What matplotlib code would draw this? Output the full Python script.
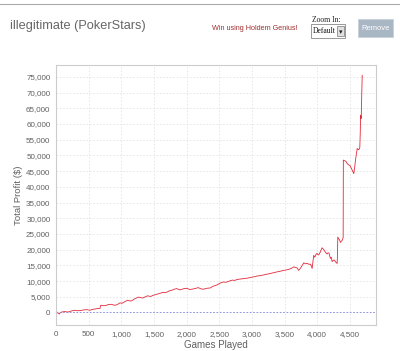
#! /usr/bin/env python3
"""
Total profit vs games played (PokerStars tracker screenshot)
"""

import matplotlib
matplotlib.use('Agg')
import matplotlib.pyplot as plt
from matplotlib.patches import Rectangle
from matplotlib.ticker import FuncFormatter

# games played / cumulative profit
games = [0, 15, 30, 50, 65, 80, 110, 130, 170, 200, 240, 290, 330, 380,
         420, 470, 520, 560, 600, 640, 675, 680, 690, 730, 760, 800, 850,
         890, 930, 960, 980, 1010, 1040, 1070, 1100, 1130, 1160, 1200, 1262,
         1300, 1330, 1370, 1400, 1450, 1493, 1530, 1560, 1600, 1640, 1680,
         1720, 1750, 1780, 1810, 1850, 1890, 1920, 1960, 2000, 2050, 2106,
         2140, 2180, 2220, 2260, 2310, 2362, 2400, 2440, 2470, 2500, 2530,
         2566, 2600, 2640, 2670, 2700, 2740, 2770, 2810, 2850, 2880, 2920,
         2975, 3010, 3050, 3080, 3120, 3170, 3230, 3260, 3300, 3340, 3380,
         3430, 3486, 3520, 3560, 3600, 3640, 3670, 3690, 3716, 3740, 3760,
         3793, 3820, 3850, 3875, 3896, 3910, 3922, 3930, 3946, 3960, 3970,
         3985, 3997, 4015, 4030, 4050, 4074, 4090, 4100, 4125, 4151, 4165,
         4180, 4202, 4215, 4228, 4245, 4260, 4285, 4305, 4310, 4315, 4330,
         4340, 4356, 4370, 4380, 4397, 4400, 4420, 4440, 4459, 4480, 4500,
         4520, 4535, 4560, 4575, 4586, 4600, 4612, 4630, 4640, 4652, 4660,
         4663, 4674, 4680, 4689]
profit = [0, 150, -200, -500, -100, 100, 200, 300, 150, 200, 500, 700, 550,
          600, 800, 900, 700, 1000, 1100, 1270, 1300, 2100, 2300, 2150, 2200,
          2500, 2600, 2300, 2400, 2800, 3060, 2900, 3300, 3600, 3900, 3650,
          3700, 4300, 4900, 4700, 4600, 5000, 5300, 5100, 5500, 5700, 5900,
          6200, 6400, 6300, 6700, 7000, 7100, 7400, 7600, 7200, 7300, 7600,
          7700, 7300, 7500, 7700, 7900, 7500, 7400, 7700, 7800, 8300, 8600,
          8800, 9200, 9500, 9700, 9600, 9900, 10100, 10300, 10200, 10500,
          10600, 10700, 10800, 10900, 11100, 11300, 11400, 11600, 11700,
          11900, 12200, 12300, 12500, 12700, 12900, 13100, 13400, 13500,
          13700, 14000, 14500, 14300, 14200, 13400, 14000, 14600, 15800,
          15500, 15600, 15300, 15400, 14800, 14000, 15500, 18200, 17600,
          17900, 18600, 18800, 18300, 18500, 19400, 20600, 20200, 20000,
          19200, 18600, 19000, 18900, 17200, 17600, 16200, 16600, 16700,
          16000, 15600, 18000, 24000, 23400, 23200, 22300, 22700, 22900,
          23800, 48500, 48300, 48100, 47400, 47000, 46800, 46000, 45300,
          44200, 46500, 48500, 50500, 52200, 51800, 51900, 52500, 58000,
          62800, 61800, 68000, 75500]

x_ticks = list(range(0, 4501, 500))
y_ticks = list(range(0, 75001, 5000))


def main():
    plt.rcParams['font.family'] = ['Liberation Sans', 'DejaVu Sans']
    fig = plt.figure(figsize=(4.0, 3.51), dpi=100)
    fig.patch.set_facecolor('white')

    # page header
    fig.add_artist(plt.Line2D([0, 1], [0.988, 0.988], color='#aaaaaa', lw=0.8))
    fig.text(0.025, 0.925, 'illegitimate (PokerStars)', fontsize=9.2,
             color='#666666', va='center')
    fig.text(0.53, 0.918, 'Win using Holdem Genius!', fontsize=5.2,
             color='#a03030', va='center')
    fig.text(0.78, 0.943, 'Zoom In:', fontsize=5.5, color='#222222',
             family=['Liberation Serif', 'DejaVu Serif'], va='center')
    fig.add_artist(Rectangle((0.778, 0.892), 0.085, 0.04, transform=fig.transFigure,
                             facecolor='white', edgecolor='#888888', lw=0.6))
    fig.text(0.782, 0.912, 'Default', fontsize=5.5, color='#111111', va='center',
             family=['Liberation Serif', 'DejaVu Serif'])
    fig.add_artist(Rectangle((0.842, 0.897), 0.018, 0.03, transform=fig.transFigure,
                             facecolor='#e0e0e0', edgecolor='#777777', lw=0.5))
    fig.text(0.851, 0.91, '\u25be', fontsize=5, color='#222222',
             ha='center', va='center', family=['DejaVu Sans'])
    fig.add_artist(Rectangle((0.895, 0.895), 0.088, 0.05, transform=fig.transFigure,
                             facecolor='#a9b6c3', edgecolor='#c8d0d8', lw=0.6))
    fig.text(0.939, 0.92, 'Remove', fontsize=5.5, color='white',
             ha='center', va='center')

    ax = fig.add_axes([0.14, 0.074, 0.80, 0.741])
    ax.plot(games, profit, color='#e3283a', lw=0.6)
    ax.axhline(0, color='#8888e0', lw=0.6, ls=(0, (2, 2)))

    ax.set_xlim(0, 4900)
    ax.set_ylim(-4000, 78800)
    fmt = FuncFormatter(lambda v, p: f'{v:,.0f}')
    ax.set_xticks(x_ticks)
    ax.set_yticks(y_ticks)
    ax.xaxis.set_major_formatter(fmt)
    ax.yaxis.set_major_formatter(fmt)

    ax.grid(True, color='#e4e4e4', lw=0.6, ls=(0, (2, 2)))
    ax.set_axisbelow(True)
    for s in ax.spines.values():
        s.set_color('#cccccc')
        s.set_linewidth(0.8)
    ax.tick_params(length=0, labelsize=5.8, labelcolor='#606060', pad=4)

    ax.set_xlabel('Games Played', fontsize=7, color='#606060', labelpad=2)
    ax.set_ylabel('Total Profit ($)', fontsize=6.8, color='#606060', labelpad=2)

    fig.savefig('out.png', dpi=100)


if __name__ == '__main__':
    main()
